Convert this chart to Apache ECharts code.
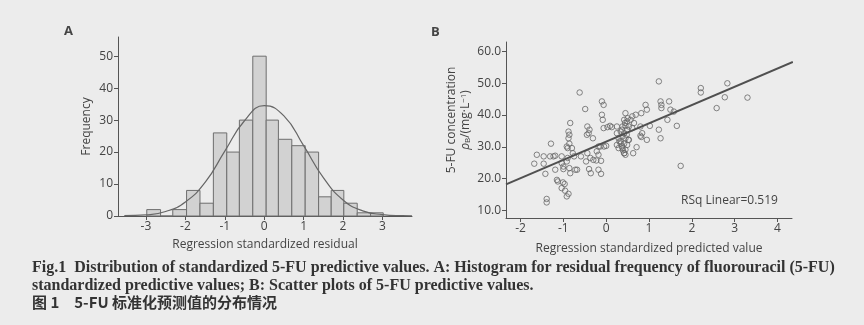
<!DOCTYPE html>
<html><head><meta charset="utf-8">
<script src="https://cdn.jsdelivr.net/npm/echarts@6.0.0/dist/echarts.min.js"></script>
<style>html,body{margin:0;padding:0;background:#ececec}#c{width:864px;height:325px}</style>
</head><body><div id="c"></div>
<script>
// ---- Panel A: histogram of standardized residuals ----
const histEdges = [-2.98,-2.63,-2.32,-1.97,-1.63,-1.29,-0.95,-0.63,-0.29,0.05,0.36,0.70,1.04,1.38,1.70,2.02,2.36,2.70,3.02];
const histCounts = [2,0,2,8,4,26,20,30,50,30,24,22,20,6,8,4,1,1];
const curveX = [-3.55,-3.0,-2.5,-2.0,-1.5,-1.0,-0.5,0.0,0.5,1.0,1.5,2.0,2.5,3.0,3.5,3.75];
const curveY = [0.1,0.35,1.4,4.4,10.5,20.3,29.8,34.5,31.3,22.0,12.0,5.0,1.6,0.45,0.1,0.05];
const histXTicks = [-3,-2,-1,0,1,2,3];
const histYTicks = [0,10,20,30,40,50];
// ---- Panel B: scatter of predicted values ----
const scatX = [-1.68,-1.62,-1.46,-1.46,-1.42,-1.29,-1.31,-1.23,-1.19,-1.19,-1.15,-1.13,-1.39,-1.39,-1.04,-1.04,-1.0,-1.0,-1.01,-0.97,-1.04,-0.96,-0.92,-0.9,-0.9,-0.92,-0.86,-0.84,-0.88,-0.92,-0.84,-0.88,-0.86,-0.88,-0.86,-0.8,-0.78,-0.75,-0.72,-0.68,-0.59,-0.62,-0.49,-0.45,-0.44,-0.41,-0.39,-0.47,-0.44,-0.37,-0.4,-0.36,-0.31,-0.3,-0.23,-0.18,-0.22,-0.18,-0.14,-0.18,-0.12,-0.12,-0.1,-0.06,-0.1,-0.08,-0.06,-0.05,0.03,0.09,0.13,0.0,
0.25,0.29,0.31,0.34,0.37,0.39,0.42,0.25,0.29,0.48,0.52,0.44,0.5,0.37,0.25,
0.45,0.42,0.49,0.57,0.61,0.69,0.82,0.92,0.95,0.38,0.45,0.53,0.61,0.34,0.42,0.49,0.65,0.8,0.84,1.02,0.8,0.82,0.95,0.38,0.45,0.53,0.34,0.42,0.49,0.38,0.45,0.42,0.45,0.63,0.71,1.23,1.27,1.23,1.27,1.29,1.29,1.47,1.5,1.43,1.58,1.65,1.74,2.21,2.21,2.58,2.77,2.83,3.3];
const scatY = [24.7,27.5,27,24.7,21.5,31,27,27,27.2,22.8,19.6,19.1,13.6,12.5,27,24.9,23.8,23,18.8,18.3,17,16.2,30.1,29.6,26.5,25.4,23.3,21.7,15.2,14.4,37.5,34.8,33.8,32.7,31,29.6,28,27,22.8,22.8,27,47.1,41.9,33.8,36.4,34.3,35.4,25.4,28,26.5,23,21.7,32.7,25.9,25.7,30.1,28.6,27.5,30.1,22.8,21.5,25.6,44.3,43.2,40.1,38.5,35.9,30.1,36.2,36.6,36.2,30.3,
34.3,32.7,31.7,31,30.1,28.9,28,30.6,29.6,33.8,32.2,37.5,39,35.4,36.4,
40.6,38.5,38,38.5,39.6,40.1,40.6,43.2,41.7,36.4,36.6,36.4,35.9,34.8,34.3,35.4,37.5,36.4,34.3,36.6,33.5,33.1,32.2,33.3,32.7,32.2,31.7,31,30.6,29.6,29.1,28,27.5,28,29.9,35.4,32.7,50.6,44.3,43.2,42.2,44.3,41.7,38.5,41.1,36.6,24,48.5,47.1,42.2,45.6,50,45.5];
const fitX = [-2.34, 4.36];
const fitY = [18.2, 56.7];
const scatXTicks = [-2,-1,0,1,2,3,4];
const scatYTicks = [10,20,30,40,50,60];
const rsqText = 'RSq Linear=0.519';

const FONT = 'Open Sans';
const TXT = '#444';
const AX = '#555';

function axisCommon(ticks, fmt){
  return {
    axisLine:{show:true,onZero:false,lineStyle:{color:AX,width:1}},
    axisTick:{show:true,customValues:ticks,length:4,lineStyle:{color:AX}},
    axisLabel:{customValues:ticks,color:TXT,fontFamily:FONT,fontSize:12,margin:5,formatter:fmt},
    splitLine:{show:false}
  };
}

const chart = echarts.init(document.getElementById('c'));
chart.setOption({
  backgroundColor:'#ececec',
  animation:false,
  grid:[
    {left:118, top:37, width:294, height:179},
    {left:506, top:42, width:286, height:176}
  ],
  xAxis:[
    Object.assign({type:'value', gridIndex:0, min:-3.71, max:3.75,
      name:'Regression standardized residual', nameLocation:'middle', nameGap:23,
      nameTextStyle:{color:TXT,fontFamily:FONT,fontSize:12}}, axisCommon(histXTicks, v=>String(v))),
    Object.assign({type:'value', gridIndex:1, min:-2.34, max:4.34,
      name:'Regression standardized predicted value', nameLocation:'middle', nameGap:25,
      nameTextStyle:{color:TXT,fontFamily:FONT,fontSize:12}}, axisCommon(scatXTicks, v=>String(v)))
  ],
  yAxis:[
    Object.assign({type:'value', gridIndex:0, min:0, max:56,
      name:'Frequency', nameLocation:'middle', nameGap:25,
      nameTextStyle:{color:TXT,fontFamily:FONT,fontSize:12}}, axisCommon(histYTicks, v=>String(v))),
    Object.assign({type:'value', gridIndex:1, min:7.6, max:63.0}, axisCommon(scatYTicks, v=>v.toFixed(1)))
  ],
  graphic:[
    {type:'text', left:64, top:25, style:{text:'A', fill:TXT, font:'bold 13px "Open Sans"'}},
    {type:'text', left:431, top:26, style:{text:'B', fill:TXT, font:'bold 13px "Open Sans"'}},
    {type:'text', x:452, y:120, rotation:Math.PI/2, style:{text:'5-FU concentration', fill:TXT, font:'12px "Open Sans"', align:'center', verticalAlign:'middle'}},
    {type:'text', x:466, y:120, rotation:Math.PI/2, style:{text:'{i|ρ}{s|B}{n|/(mg·L}{p|−1}{n|)}', align:'center', verticalAlign:'middle',
      rich:{i:{fill:TXT,fontFamily:FONT,fontSize:12,fontStyle:'italic'}, s:{fill:TXT,fontFamily:FONT,fontSize:8,verticalAlign:'bottom'}, n:{fill:TXT,fontFamily:FONT,fontSize:12}, p:{fill:TXT,fontFamily:FONT,fontSize:8,verticalAlign:'top'}}}},
    {type:'text', left:32, top:260, style:{text:'Fig.1  Distribution of standardized 5-FU predictive values. A: Histogram for residual frequency of fluorouracil (5-FU)', fill:'#333', font:'bold 16px "Liberation Serif"'}},
    {type:'text', left:32, top:278, style:{text:'standardized predictive values; B: Scatter plots of 5-FU predictive values.', fill:'#333', font:'bold 16px "Liberation Serif"'}},
    {type:'text', left:32, top:295, style:{text:'图 1　5-FU 标准化预测值的分布情况', fill:'#333', font:'bold 15px "Noto Sans CJK SC"'}}
  ],
  series:[
    {type:'custom', xAxisIndex:0, yAxisIndex:0,
      data: histCounts.map((c,i)=>[histEdges[i], histEdges[i+1], c]),
      encode:{x:[0,1], y:2},
      renderItem:function(params, api){
        const p0 = api.coord([api.value(0), 0]);
        const p1 = api.coord([api.value(1), api.value(2)]);
        return {type:'rect', shape:{x:p0[0], y:p1[1], width:p1[0]-p0[0], height:p0[1]-p1[1]},
          style:{fill:'#d2d2d2', stroke:'#6e6e6e', lineWidth:1}};
      }, z:2},
    {type:'line', xAxisIndex:0, yAxisIndex:0, smooth:true, symbol:'none',
      data: curveX.map((x,i)=>[x, curveY[i]]),
      lineStyle:{color:'#666', width:1.2}, z:3},
    {type:'scatter', xAxisIndex:1, yAxisIndex:1, symbol:'circle', symbolSize:5.5,
      data: scatX.map((x,i)=>[x, scatY[i]]),
      itemStyle:{color:'rgba(0,0,0,0)', borderColor:'#666', borderWidth:1}, z:2},
    {type:'line', xAxisIndex:1, yAxisIndex:1, symbol:'none',
      data: fitX.map((x,i)=>[x, fitY[i]]),
      lineStyle:{color:'#505050', width:2}, z:3}
  ]
});
// RSq label placed by the data coordinate system of panel B
const rp = chart.convertToPixel({gridIndex:1}, [2.88, 13.0]);
chart.setOption({graphic:[{type:'text', id:'rsq', x:rp[0], y:rp[1], style:{text:rsqText, fill:TXT, font:'12px "Open Sans"', align:'center', verticalAlign:'middle'}}]});
</script></body></html>
